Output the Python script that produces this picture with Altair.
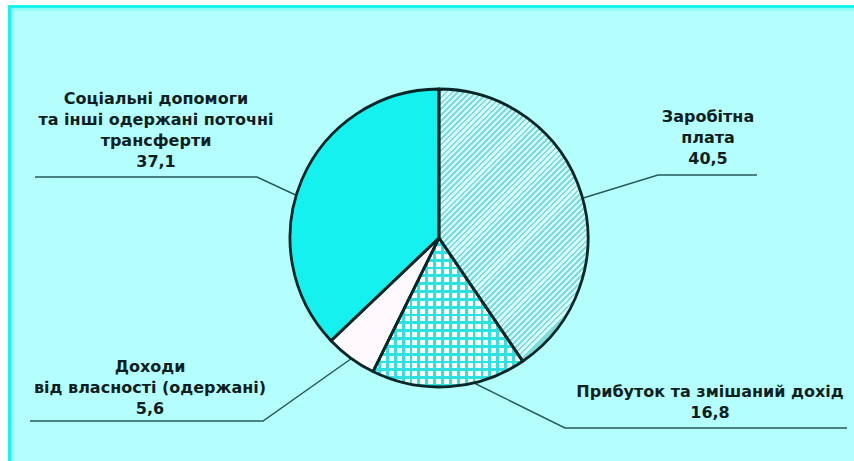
import math
import altair as alt
import pandas as pd

# ---- data ----
categories = [
    "Заробітна плата",
    "Прибуток та змішаний дохід",
    "Доходи від власності (одержані)",
    "Соціальні допомоги та інші одержані поточні трансферти",
]
values = [40.5, 16.8, 5.6, 37.1]
label_names = [
    ["Заробітна", "плата"],
    ["Прибуток та змішаний дохід"],
    ["Доходи", "від власності (одержані)"],
    ["Соціальні допомоги", "та інші одержані поточні", "трансферти"],
]

# ---- annotation layout (pixels) ----
label_x = [708, 710, 150, 156]
label_y = [122, 397, 372, 104]
leader_x = [[580, 658, 757], [468, 565, 847], [355, 263, 30], [300, 257, 35]]
leader_y = [[199, 175, 175], [380, 428, 428], [356, 421, 421], [197, 177, 177]]

CX, CY, R = 439, 238, 149
BG = "#b5fefe"
CYAN = "#14f1ef"
OUTLINE = "#0b2626"
LEADER = "#265a5a"
TEXT = "#0f1f1f"

pie_df = pd.DataFrame({"cat": categories, "value": values})

lab_rows = []
for i, v in enumerate(values):
    txt = "\n".join(label_names[i] + [f"{v:.1f}".replace(".", ",")])
    lab_rows.append({"text": txt, "x": label_x[i], "y": label_y[i]})
lab_df = pd.DataFrame(lab_rows)

lead_rows = []
for i in range(len(values)):
    for j, (x, y) in enumerate(zip(leader_x[i], leader_y[i])):
        lead_rows.append({"label": i, "seq": j, "x": x, "y": y})
lead_df = pd.DataFrame(lead_rows)


def stripe_gradient(x2, y2, periods, line_frac, line_color, gap_color):
    stops = []
    for i in range(periods):
        a = i / periods
        b = (i + 1 - line_frac) / periods
        c = min((i + 1) / periods, 1.0)
        stops += [
            {"offset": round(a, 5), "color": gap_color},
            {"offset": round(b, 5), "color": gap_color},
            {"offset": round(b, 5), "color": line_color},
            {"offset": round(c, 5), "color": line_color},
        ]
    return {"gradient": "linear", "x1": 0, "y1": 0, "x2": x2, "y2": y2, "stops": stops}


hatch = stripe_gradient(0.5473, 1, 60, 0.45, "#7ddddd", "#d6fcfc")
grid_h = stripe_gradient(0, 1, 19, 0.36, "#2ee0e0", "#f4ffff")
grid_v = stripe_gradient(1, 0, 19, 0.36, "#2ee0e0", "rgba(255,255,255,0)")

base = (
    alt.Chart(pie_df)
    .transform_window(idx="row_number()")
    .transform_window(end="sum(value)", sort=[alt.SortField("idx")], frame=[None, 0])
    .transform_calculate(start="datum.end - datum.value")
)
arc_enc = dict(
    theta=alt.Theta("start:Q", scale=alt.Scale(domain=[0, 100], range=[0, 2 * math.pi])),
    theta2=alt.Theta2("end"),
    x=alt.value(CX),
    y=alt.value(CY),
)


def slice_layer(i, fill):
    return (
        base.transform_filter(alt.datum.cat == categories[i])
        .mark_arc(radius=R, fill=fill)
        .encode(**arc_enc)
    )


bg = alt.Chart(pie_df).mark_rect(fill=BG).encode(
    x=alt.value(8), x2=alt.value(854), y=alt.value(5), y2=alt.value(461)
)
top_rule = alt.Chart(pie_df).mark_rule(color="#19f3ee", strokeWidth=3).encode(
    x=alt.value(8), x2=alt.value(854), y=alt.value(6.5)
)
top_rule2 = alt.Chart(pie_df).mark_rule(color="#8ffcf6", strokeWidth=3).encode(
    x=alt.value(11), x2=alt.value(854), y=alt.value(9.5)
)
left_rule = alt.Chart(pie_df).mark_rule(color="#19f3ee", strokeWidth=3).encode(
    x=alt.value(9.5), y=alt.value(5), y2=alt.value(461)
)
left_rule2 = alt.Chart(pie_df).mark_rule(color="#8ffcf6", strokeWidth=2).encode(
    x=alt.value(12), y=alt.value(8), y2=alt.value(461)
)

leaders = alt.Chart(lead_df).mark_line(color=LEADER, strokeWidth=1.5).encode(
    x=alt.X("x:Q", scale=None),
    y=alt.Y("y:Q", scale=None),
    detail="label:N",
    order="seq:Q",
)

s1 = slice_layer(0, hatch)
s2 = slice_layer(1, grid_h)
s2v = slice_layer(1, grid_v)
s3 = slice_layer(2, "#fdf8fb")
s4 = slice_layer(3, CYAN)

outline = base.mark_arc(
    radius=R, fillOpacity=0, stroke=OUTLINE, strokeWidth=2.8, strokeJoin="round"
).encode(**arc_enc)

labels = alt.Chart(lab_df).mark_text(
    align="center",
    baseline="alphabetic",
    font="DejaVu Sans",
    fontWeight="bold",
    fontSize=16,
    lineHeight=21,
    lineBreak="\n",
    color=TEXT,
).encode(
    x=alt.X("x:Q", scale=None),
    y=alt.Y("y:Q", scale=None),
    text="text:N",
)

chart = (
    alt.layer(bg, top_rule2, left_rule2, top_rule, left_rule, leaders, s1, s2, s2v, s3, s4, outline, labels)
    .properties(
        width=854,
        height=461,
        padding=0,
        autosize=alt.AutoSizeParams(type="none"),
        background="white",
    )
    .configure_view(strokeWidth=0)
)

chart.save("out.html", embed_options={"renderer": "svg", "actions": False})
